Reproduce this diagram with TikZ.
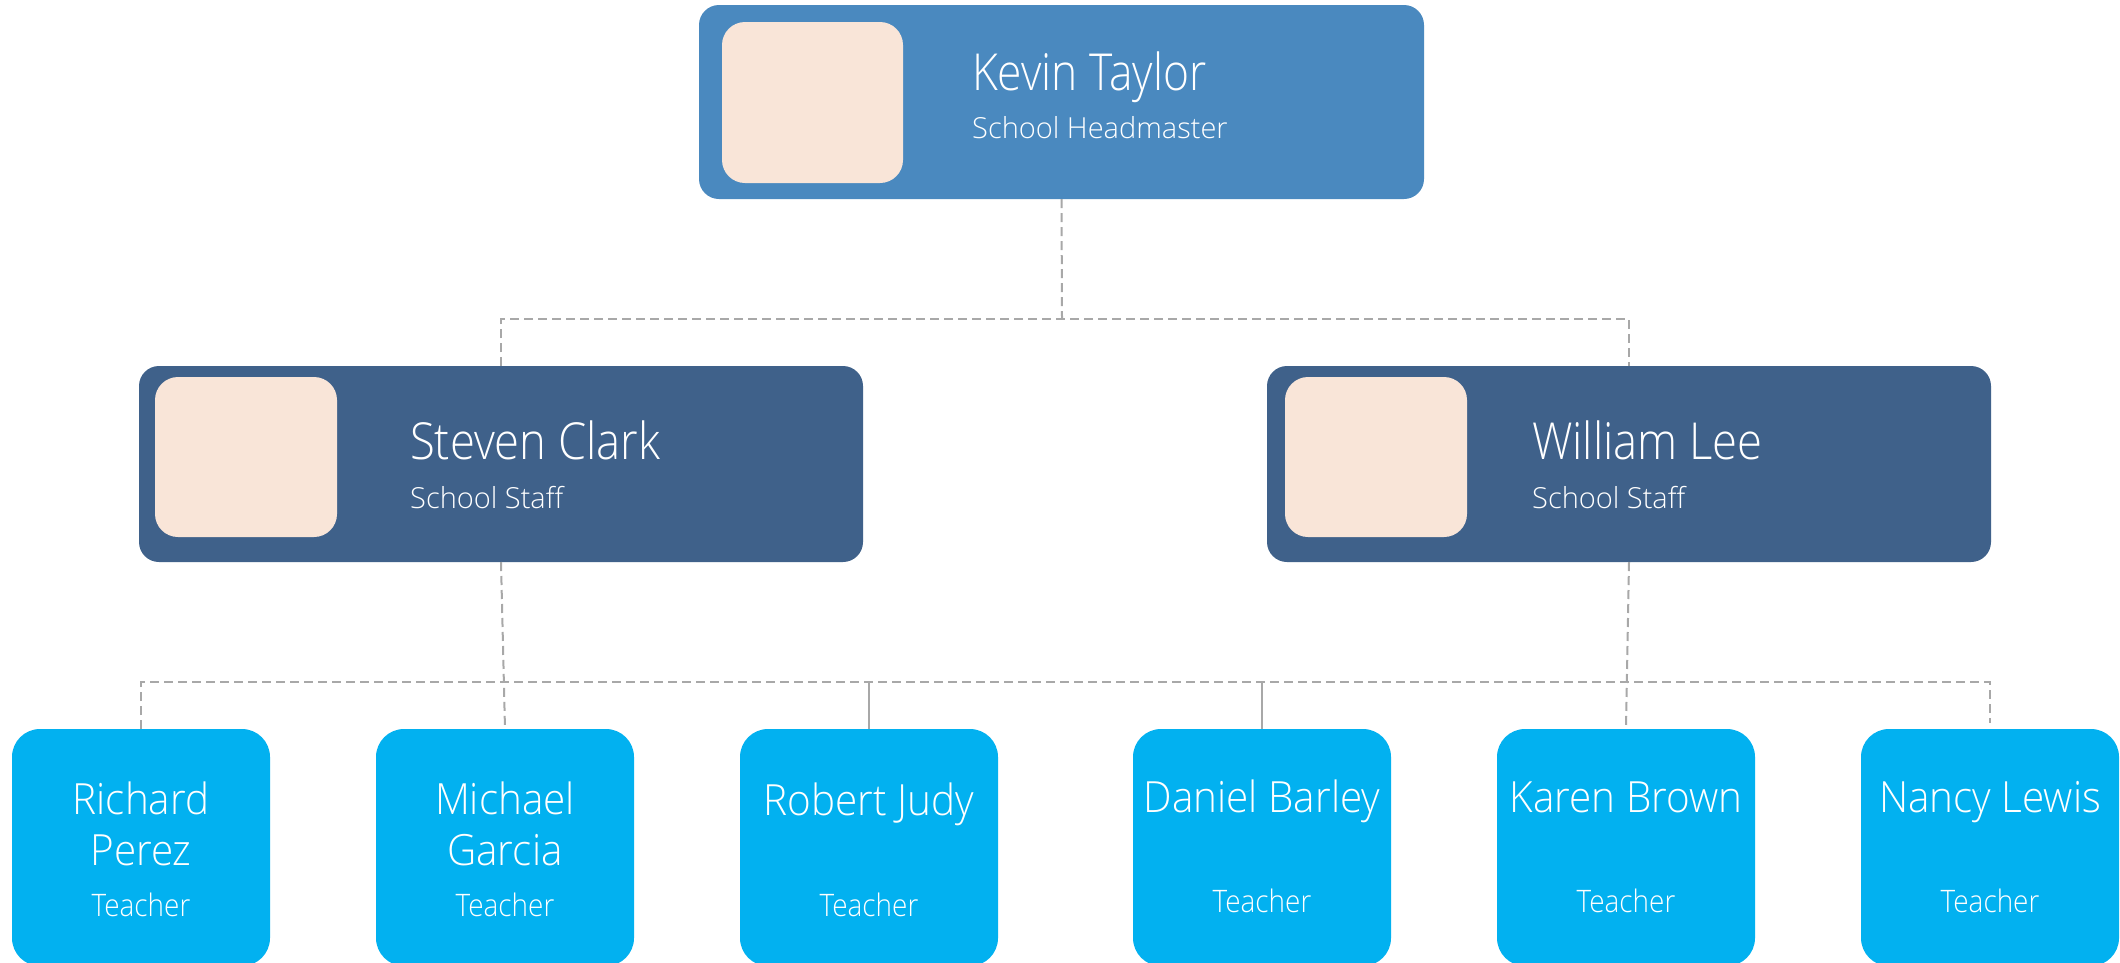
\documentclass[tikz,border=0pt]{standalone}
\usepackage{fontspec}
\newfontfamily\ftopfont{Open Sans Light}[FakeStretch=0.87]
\newfontfamily\fnamefont{Open Sans Light}[FakeStretch=0.89]
\newfontfamily\fsubfont{Open Sans Light}[FakeStretch=1.0]
\newfontfamily\flowfont{Open Sans Light}[FakeStretch=0.94]
\newfontfamily\frolefont{Open Sans Light}[FakeStretch=0.9]
\usetikzlibrary{calc}
\definecolor{topc}{HTML}{4A89BF}
\definecolor{midc}{HTML}{3F618A}
\definecolor{lowc}{HTML}{02B1F0}
\definecolor{photoc}{HTML}{F9E5D8}
\definecolor{linec}{HTML}{A8A8A8}
\tikzset{
  boxbase/.style={rectangle, inner sep=0pt, outer sep=0pt, draw=none},
  topbox/.style={boxbase, fill=topc, rounded corners=20pt, minimum width=725pt, minimum height=194pt, anchor=north west},
  midbox/.style={boxbase, fill=midc, rounded corners=20pt, minimum width=724pt, minimum height=196pt, anchor=north west},
  lowbox/.style={boxbase, fill=lowc, rounded corners=28pt, minimum width=258pt, minimum height=237pt, anchor=north},
  photo/.style={boxbase, fill=photoc, rounded corners=23pt, minimum width=181pt, minimum height=161pt, anchor=north west},
  bigname/.style={text=white, inner sep=0pt, anchor=base west, font=\fnamefont\fontsize{51}{60}\selectfont},
  topname/.style={text=white, inner sep=0pt, anchor=base west, font=\ftopfont\fontsize{51}{60}\selectfont},
  subname/.style={text=white, inner sep=0pt, anchor=base west, font=\fsubfont\fontsize{29}{35}\selectfont},
  lowname/.style={text=white, inner sep=0pt, anchor=base, font=\flowfont\fontsize{43}{50}\selectfont},
  lowrole/.style={text=white, inner sep=0pt, anchor=base, font=\frolefont\fontsize{31}{37}\selectfont},
  conn/.style={draw=linec, line width=2pt, dash pattern=on 9pt off 5pt},
  solidconn/.style={draw=linec, line width=2pt},
}
\begin{document}
\begin{tikzpicture}[x=1pt,y=-1pt]
\useasboundingbox (0,0) rectangle (2120,962);
\fill[white] (0,0) rectangle (2120,962);

% top
\node[topbox] (kevin) at (699,5) {};
\node[photo] (kevinpic) at (722,22) {};
\node[topname] (kevinname) at (972,90) {Kevin Taylor};
\node[subname] (kevinrole) at (972,138) {School Headmaster};

% middle
\node[midbox] (steven) at (139,366) {};
\node[photo, minimum width=182pt, minimum height=160pt] (stevenpic) at (155,377) {};
\node[bigname] (stevenname) at (410,459) {Steven Clark};
\node[subname] (stevenrole) at (410,508) {School Staff};

\node[midbox] (william) at (1267,366) {};
\node[photo, minimum width=182pt, minimum height=160pt] (williampic) at (1285,377) {};
\node[bigname] (williamname) at (1532,459) {William Lee};
\node[subname] (williamrole) at (1532,508) {School Staff};

% bottom
\node[lowbox] (rich) at (141,729) {};
\node[lowname] (richn1) at (141,814) {Richard};
\node[lowname] (richn2) at (141,865) {Perez};
\node[lowrole] (richr) at (141,916) {Teacher};

\node[lowbox] (michael) at (505,729) {};
\node[lowname] (michaeln1) at (505,814) {Michael};
\node[lowname] (michaeln2) at (505,865) {Garcia};
\node[lowrole] (michaelr) at (505,916) {Teacher};

\node[lowbox] (robert) at (869,729) {};
\node[lowname] (robertn) at (869,815) {Robert Judy};
\node[lowrole] (robertr) at (869,916) {Teacher};

\node[lowbox] (daniel) at (1262,729) {};
\node[lowname] (danieln) at (1262,812) {Daniel Barley};
\node[lowrole] (danielr) at (1262,912) {Teacher};

\node[lowbox] (karen) at (1626,729) {};
\node[lowname] (karenn) at (1626,812) {Karen Brown};
\node[lowrole] (karenr) at (1626,912) {Teacher};

\node[lowbox] (nancy) at (1990,729) {};
\node[lowname] (nancyn) at (1990,812) {Nancy Lewis};
\node[lowrole] (nancyr) at (1990,912) {Teacher};

% connectors
\coordinate (busA) at (1062,319);
\draw[conn] (kevin.south) -- (busA);
\draw[conn] (steven.north) |- (busA) -| (william.north);

\draw[conn] (rich.north) |- ($(nancy.north)+(0,-47)$) -- ($(nancy.north)+(0,-6)$);
\draw[conn] (steven.south) -- (michael.north);
\draw[conn] (william.south) -- (karen.north);
\draw[solidconn] (robert.north) -- ++(0,-47);
\draw[solidconn] (daniel.north) -- ++(0,-47);
\end{tikzpicture}
\end{document}
